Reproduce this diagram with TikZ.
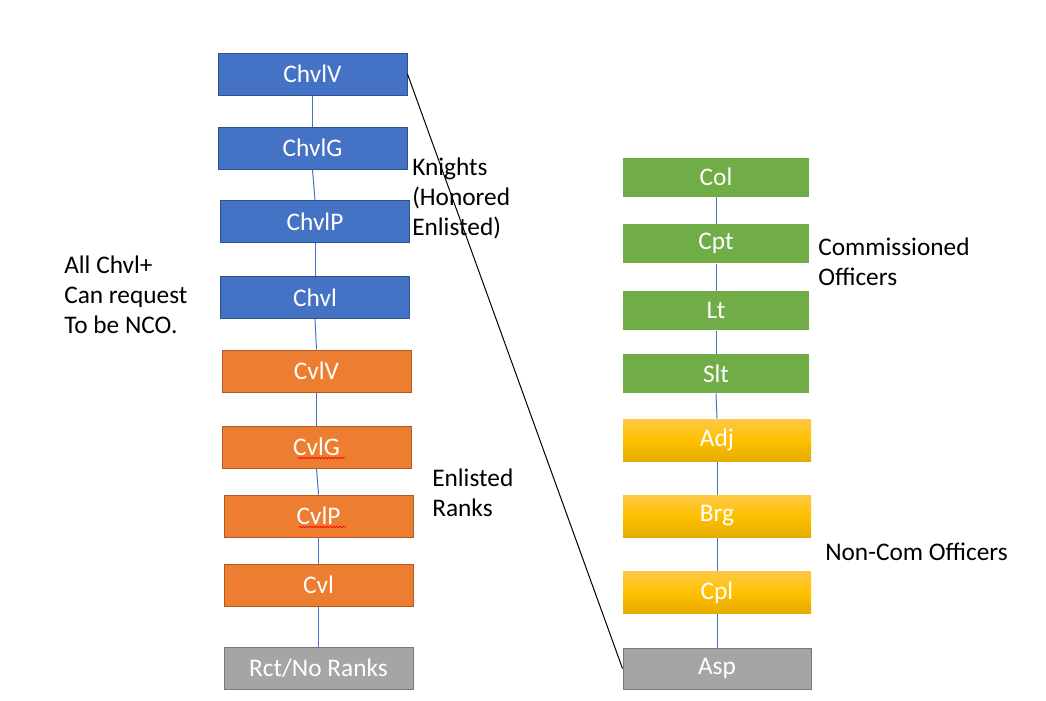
\documentclass[tikz,border=0pt]{standalone}
\usepackage{fontspec}
\setmainfont{Carlito}
\usetikzlibrary{decorations.pathmorphing}
\definecolor{bfill}{HTML}{4472C4}
\definecolor{bdraw}{HTML}{2F528F}
\definecolor{ofill}{HTML}{ED7D31}
\definecolor{odraw}{HTML}{AE5A21}
\definecolor{gfill}{HTML}{A5A5A5}
\definecolor{gdraw}{HTML}{787878}
\definecolor{grfill}{HTML}{70AD47}
\definecolor{ytop}{HTML}{FFC846}
\definecolor{ymid}{HTML}{FFC000}
\definecolor{ybot}{HTML}{E5AC00}
\begin{document}
\begin{tikzpicture}[x=0.75pt,y=-0.75pt,
  every node/.style={font=\fontsize{19}{22.5}\selectfont},
  rank/.style={rectangle, inner sep=0pt, text=white, minimum width=141.75pt, minimum height=31.5pt, line width=0.75pt},
  bluebox/.style={rank, fill=bfill, draw=bdraw},
  orangebox/.style={rank, fill=ofill, draw=odraw},
  graybox/.style={rank, fill=gfill, draw=gdraw},
  greenbox/.style={rank, fill=grfill, minimum width=139.5pt, minimum height=29.25pt},
  yellowbox/.style={rank, top color=ytop, bottom color=ybot, middle color=ymid, minimum width=141pt},
  link/.style={draw=bfill, line width=0.75pt},
  label/.style={anchor=west, align=left, inner sep=0pt, text=black},
  squig/.style={draw=red, line width=0.5pt, decorate, decoration={snake, amplitude=0.6pt, segment length=2.5pt}}
]
\useasboundingbox (0,0) rectangle (1046,700);
% left column
\node[bluebox] (ChvlV) at (312.5,74) {ChvlV};
\node[bluebox] (ChvlG) at (312.5,148) {ChvlG};
\node[bluebox] (ChvlP) at (315,221.5) {ChvlP};
\node[bluebox] (Chvl) at (315,297.5) {Chvl};
\node[orangebox] (CvlV) at (316.5,371) {CvlV};
\node[orangebox] (CvlG) at (316.5,447) {CvlG};
\node[orangebox] (CvlP) at (318.5,516) {CvlP};
\node[orangebox] (Cvl) at (318.5,585) {Cvl};
\node[graybox] (Rct) at (318.5,668.5) {Rct/No Ranks};
% right column
\node[greenbox] (Col) at (716,177) {Col};
\node[greenbox] (Cpt) at (716,243.5) {Cpt};
\node[greenbox] (Lt) at (716,310.5) {Lt};
\node[greenbox] (Slt) at (716,373.5) {Slt};
\node[yellowbox] (Adj) at (717,440) {Adj};
\node[yellowbox] (Brg) at (717,516) {Brg};
\node[yellowbox] (Cpl) at (717,592.5) {Cpl};
\node[graybox, minimum width=141pt, minimum height=30.75pt] (Asp) at (717,668.5) {Asp};
% connectors
\foreach \a/\b in {ChvlV/ChvlG, ChvlG/ChvlP, ChvlP/Chvl, Chvl/CvlV, CvlV/CvlG, CvlG/CvlP, CvlP/Cvl, Cvl/Rct,
  Col/Cpt, Cpt/Lt, Lt/Slt, Slt/Adj, Adj/Brg, Brg/Cpl, Cpl/Asp}
  \draw[link] (\a.south) -- (\b.north);
\draw[black, line width=0.75pt] (ChvlV.east) -- (Asp.west);
% spell-check squiggles
\draw[squig] (298,458) -- (345,458);
\draw[squig] (299,527) -- (346,527);
% labels
\node[label] (knights) at (412,198) {Knights\\(Honored\\Enlisted)};
\node[label] (allchvl) at (64,295) {All Chvl+\\Can request\\To be NCO.};
\node[label] (enlisted) at (432,493) {Enlisted\\Ranks};
\node[label] (comm) at (818,261.5) {Commissioned\\Officers};
\node[label] (nco) at (825,552) {Non-Com Officers};
\end{tikzpicture}
\end{document}
